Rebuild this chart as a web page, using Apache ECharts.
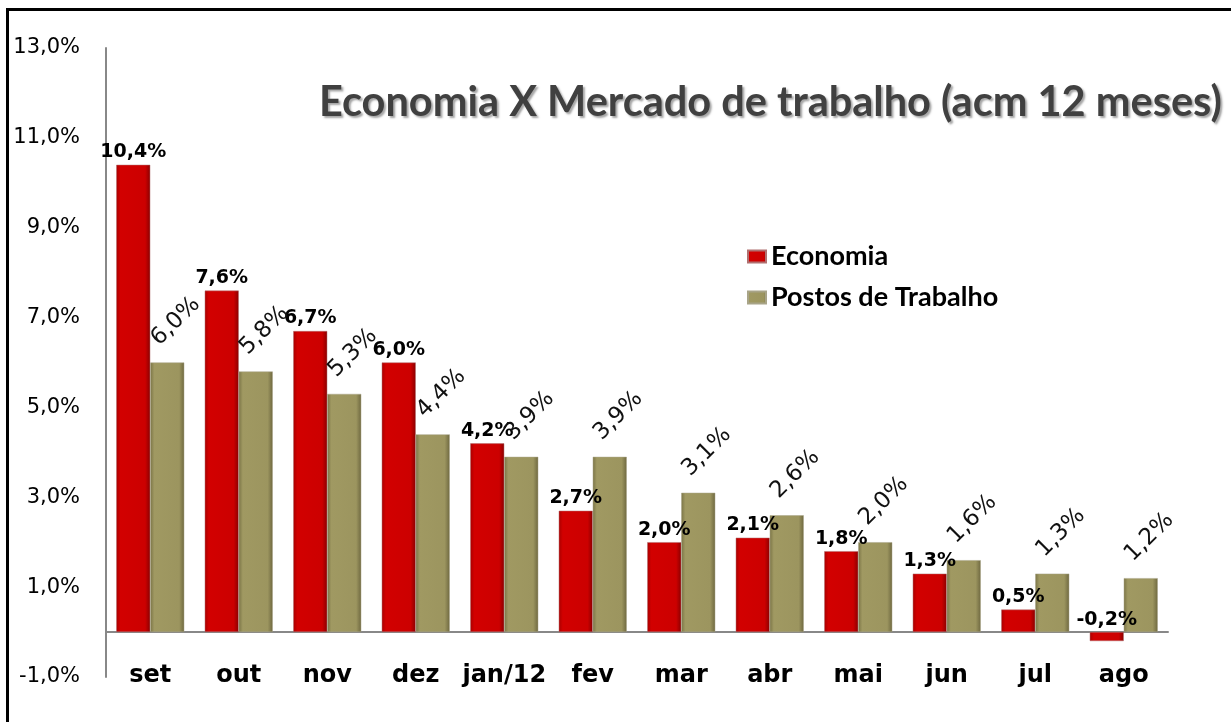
<!DOCTYPE html>
<html><head><meta charset="utf-8">
<script src="https://cdn.jsdelivr.net/npm/echarts@6/dist/echarts.min.js"></script>
<style>html,body{margin:0;padding:0;background:#fff}#c{width:1231px;height:722px}</style>
</head><body><div id="c"></div>
<script>
const categories = ['set','out','nov','dez','jan/12','fev','mar','abr','mai','jun','jul','ago'];
const economia = [10.4, 7.6, 6.7, 6.0, 4.2, 2.7, 2.0, 2.1, 1.8, 1.3, 0.5, -0.2];
const postos = [6.0, 5.8, 5.3, 4.4, 3.9, 3.9, 3.1, 2.6, 2.0, 1.6, 1.3, 1.2];
const yTicks = {min: -1, max: 13, interval: 2};
const titleText = 'Economia X Mercado de trabalho (acm 12 meses)';

const fmt = v => v.toFixed(1).replace('.', ',') + '%';
const chart = echarts.init(document.getElementById('c'));
const redGrad = new echarts.graphic.LinearGradient(0,0,1,0,[
  {offset:0,color:'#a80000'},{offset:0.12,color:'#d20000'},{offset:0.85,color:'#cc0000'},{offset:1,color:'#8a0000'}]);
const goldGrad = new echarts.graphic.LinearGradient(0,0,1,0,[
  {offset:0,color:'#7a7446'},{offset:0.12,color:'#a09962'},{offset:0.85,color:'#9c955f'},{offset:1,color:'#6e6840'}]);
chart.setOption({
  animation: false,
  backgroundColor: '#fff',
  graphic: [
    {type:'rect', shape:{x:6,y:8,width:1225,height:3}, style:{fill:'#000'}},
    {type:'rect', shape:{x:6,y:8,width:3,height:714}, style:{fill:'#000'}}
  ],
  title: {
    text: titleText, left: 314, top: 77,
    textStyle: {fontFamily: 'Lato', fontWeight: 'bold', fontSize: 41.5, color: '#404040',
      textShadowColor: 'rgba(0,0,0,0.35)', textShadowBlur: 2, textShadowOffsetX: 2, textShadowOffsetY: 2}
  },
  legend: {
    orient: 'vertical', left: 742, top: 238, itemWidth: 18, itemHeight: 12, itemGap: 14,
    icon: 'rect',
    textStyle: {fontFamily: 'Lato', fontWeight: 'bold', fontSize: 27, color: '#000'}
  },
  grid: {left: 106, right: 63, top: 48, bottom: 45, containLabel: false, outerBoundsMode: 'none'},
  xAxis: {
    type: 'category', data: categories,
    axisLine: {onZero: true, lineStyle: {color: '#888', width: 2}},
    axisTick: {show: false},
    axisLabel: {interval: 0, margin: -13, fontFamily: 'DejaVu Sans', fontWeight: 'bold', fontSize: 24, color: '#000'}
  },
  yAxis: {
    type: 'value', min: yTicks.min, max: yTicks.max, interval: yTicks.interval,
    splitLine: {show: false},
    axisLine: {show: true, lineStyle: {color: '#888', width: 2}},
    axisTick: {show: false},
    axisLabel: {margin: 26, formatter: v => fmt(v), fontFamily: 'DejaVu Sans', fontSize: 21, color: '#000'}
  },
  series: [
    {
      name: 'Economia', type: 'bar', data: economia, barWidth: 34, barGap: '0%',
      itemStyle: {color: redGrad, borderColor: '#b07070', borderWidth: 0.5},
      label: {show: true, position: 'top', distance: 3, formatter: p => fmt(p.value),
        fontFamily: 'DejaVu Sans', fontWeight: 'bold', fontSize: 19, color: '#000'}
    },
    {
      name: 'Postos de Trabalho', type: 'bar', data: postos, barWidth: 34,
      itemStyle: {color: goldGrad, borderColor: '#a8a488', borderWidth: 0.5},
      label: {show: true, position: 'top', distance: 0, rotate: 45, align: 'center', verticalAlign: 'middle',
        offset: [35, -23], formatter: p => fmt(p.value),
        fontFamily: 'DejaVu Sans', fontSize: 23, color: '#111'}
    }
  ]
});
</script></body></html>
